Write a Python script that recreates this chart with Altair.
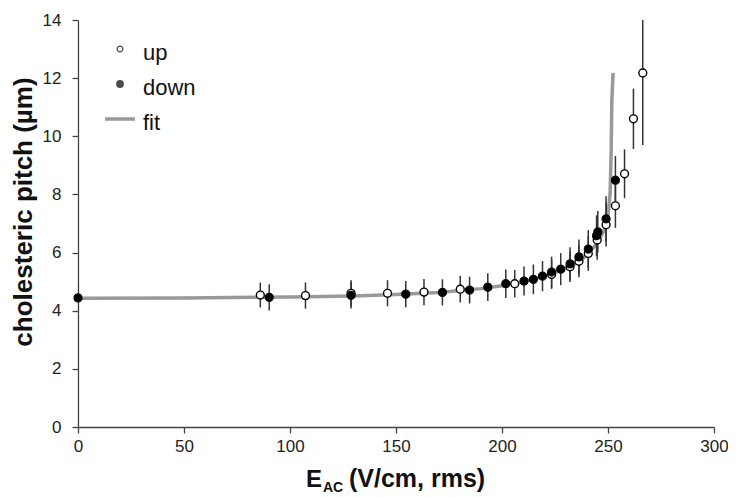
import altair as alt
import pandas as pd

# ---- data ----
up_x = [86.0, 107.3, 128.8, 146.0, 163.2, 180.3, 206.0, 223.4, 232.1, 236.3, 240.7, 244.9, 249.1, 253.5, 257.8, 262.0, 266.4]
up_y = [4.54, 4.52, 4.60, 4.60, 4.64, 4.74, 4.93, 5.25, 5.51, 5.70, 5.97, 6.43, 6.96, 7.61, 8.71, 10.60, 12.18]
up_err = [0.43, 0.45, 0.45, 0.45, 0.45, 0.46, 0.47, 0.50, 0.52, 0.55, 0.60, 0.68, 0.75, 0.76, 0.84, 1.04, 2.48]

down_x = [0, 90.2, 128.8, 154.6, 171.9, 184.7, 193.3, 201.8, 210.4, 214.8, 219.1, 223.4, 227.7, 232.1, 236.3, 240.7, 244.6, 245.2, 249.1, 253.5]
down_y = [4.44, 4.46, 4.53, 4.57, 4.63, 4.71, 4.81, 4.93, 5.02, 5.08, 5.19, 5.33, 5.43, 5.61, 5.85, 6.12, 6.58, 6.71, 7.16, 8.49]
down_err = [0.45, 0.45, 0.45, 0.45, 0.45, 0.46, 0.48, 0.49, 0.50, 0.51, 0.52, 0.53, 0.55, 0.57, 0.60, 0.65, 0.70, 0.72, 0.78, 0.83]

fit_x = [0, 50, 100, 130, 150, 170, 190, 200, 210, 220, 230, 235, 240, 244, 247, 249.1, 250.2, 251.0, 251.5, 251.8, 252.4]
fit_y = [4.43, 4.44, 4.47, 4.51, 4.56, 4.63, 4.76, 4.86, 5.00, 5.18, 5.45, 5.63, 5.90, 6.25, 6.60, 6.90, 7.40, 8.04, 9.5, 11.2, 12.18]

x_ticks = [0, 50, 100, 150, 200, 250, 300]
y_ticks = [0, 2, 4, 6, 8, 10, 12, 14]

FONT = "Liberation Sans"

up = pd.DataFrame({"E": up_x, "p": up_y, "lo": [v - e for v, e in zip(up_y, up_err)],
                   "hi": [v + e for v, e in zip(up_y, up_err)]})
down = pd.DataFrame({"E": down_x, "p": down_y, "lo": [v - e for v, e in zip(down_y, down_err)],
                     "hi": [v + e for v, e in zip(down_y, down_err)]})
fit = pd.DataFrame({"E": fit_x, "p": fit_y})

xs = alt.Scale(domain=[0, 300], nice=False, zero=False)
ys = alt.Scale(domain=[0, 14], nice=False, zero=False)

xax = alt.Axis(values=x_ticks, title=None, grid=False, labelFontSize=17, labelFont=FONT,
               labelColor="#222", domainColor="#444", tickColor="#444", tickSize=6,
               labelPadding=5, domainWidth=1.3, tickWidth=1.3, labelFlush=False)
yax = alt.Axis(values=y_ticks, title=None, grid=False, labelFontSize=17, labelFont=FONT,
               labelColor="#222", domainColor="#444", tickColor="#444", tickSize=6,
               labelPadding=11, domainWidth=1.3, tickWidth=1.3, labelFlush=False)

fit_line = alt.Chart(fit).mark_line(color="#999999", strokeWidth=3.5).encode(
    x=alt.X("E:Q", scale=xs, axis=xax), y=alt.Y("p:Q", scale=ys, axis=yax))

def bars(df):
    return alt.Chart(df).mark_rule(color="#333333", strokeWidth=1.5, clip=True).encode(
        x=alt.X("E:Q", scale=xs), y=alt.Y("lo:Q", scale=ys), y2="hi:Q")

up_pts = alt.Chart(up).mark_point(shape="circle", filled=True, fill="white", stroke="black",
                                  strokeWidth=1.4, size=62, opacity=1).encode(
    x=alt.X("E:Q", scale=xs), y=alt.Y("p:Q", scale=ys))
down_pts = alt.Chart(down).mark_point(shape="circle", filled=True, fill="black", stroke="black",
                                      strokeWidth=1, size=66, opacity=1).encode(
    x=alt.X("E:Q", scale=xs), y=alt.Y("p:Q", scale=ys))

one = pd.DataFrame({"k": [0]})

def txt(s, x, y, size, weight="normal", angle=0, align="left", baseline="alphabetic"):
    return alt.Chart(pd.DataFrame({"t": [s]})).mark_text(
        align=align, baseline=baseline, fontSize=size, font=FONT, fontWeight=weight,
        angle=angle, color="#111").encode(x=alt.value(x), y=alt.value(y), text="t:N")

leg_up = alt.Chart(one).mark_point(shape="circle", filled=True, fill="white", stroke="black",
                                   strokeWidth=1.2, size=34).encode(x=alt.value(42), y=alt.value(29))
leg_down = alt.Chart(one).mark_point(shape="circle", filled=True, fill="black", stroke="black",
                                     size=34).encode(x=alt.value(42), y=alt.value(64))
leg_fit = alt.Chart(one).mark_rule(color="#999999", strokeWidth=3.5).encode(
    x=alt.value(27), x2=alt.value(57), y=alt.value(99))

layers = [
    fit_line, bars(up), bars(down), up_pts, down_pts,
    leg_up, leg_down, leg_fit,
    txt("up", 65, 40, 22), txt("down", 65, 75, 22), txt("fit", 65, 110, 22),
    txt("E", 228, 467, 24, "bold"),
    txt("AC", 245, 472, 14, "bold"),
    txt("(V/cm, rms)", 271, 467, 25, "bold"),
    txt("cholesteric pitch (µm)", -54, 192, 26, "bold", angle=270, align="center", baseline="middle"),
]

chart = alt.layer(*layers).properties(
    width=636, height=407,
    padding={"left": 70, "top": 12, "right": 14, "bottom": 70},
    autosize=alt.AutoSizeParams(type="none"),
).configure_view(stroke=None)

chart.save("out.html", embed_options={"renderer": "svg", "actions": False})
